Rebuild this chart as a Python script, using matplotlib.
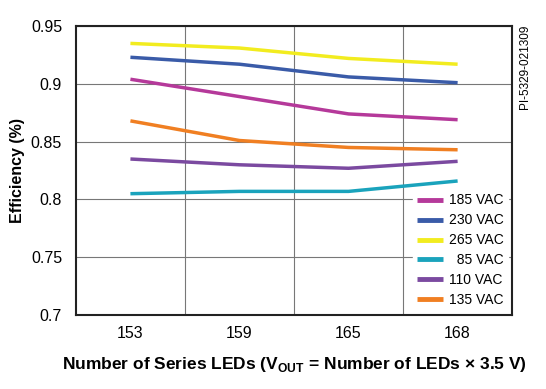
import numpy as np
import matplotlib
matplotlib.use("Agg")
import matplotlib.pyplot as plt

leds = ["153", "159", "165", "168"]
series = ["185 VAC", "230 VAC", "265 VAC", "  85 VAC", "110 VAC", "135 VAC"]
eff_185 = [0.904, 0.889, 0.874, 0.869]
eff_230 = [0.923, 0.917, 0.906, 0.901]
eff_265 = [0.935, 0.931, 0.922, 0.917]
eff_85 = [0.805, 0.807, 0.807, 0.816]
eff_110 = [0.835, 0.830, 0.827, 0.833]
eff_135 = [0.868, 0.851, 0.845, 0.843]
colors = ["#B5399A", "#3A5BA8", "#F2EC1F", "#1AA3BC", "#7B4AA0", "#F07F22"]

plt.rcParams['font.family'] = ['Liberation Sans', 'DejaVu Sans']
plt.rcParams['mathtext.fontset'] = 'custom'
plt.rcParams['mathtext.bf'] = 'Liberation Sans:bold'
plt.rcParams['mathtext.rm'] = 'Liberation Sans'

fig = plt.figure(figsize=(5.46, 3.89), dpi=100)
ax = fig.add_axes([0.139, 0.190, 0.799, 0.743])

x = np.arange(len(leds))
for name, vals, c in zip(series, [eff_185, eff_230, eff_265, eff_85, eff_110, eff_135], colors):
    ax.plot(x, vals, color=c, lw=2.5, label=name, solid_capstyle="butt")

ax.set_xlim(-0.5, 3.5)
ax.set_ylim(0.7, 0.95)
ax.set_yticks([0.7, 0.75, 0.8, 0.85, 0.9, 0.95])
ax.set_yticklabels(["0.7", "0.75", "0.8", "0.85", "0.9", "0.95"])
ax.set_xticks(x)
ax.set_xticklabels(leds)
ax.set_xticks([0.5, 1.5, 2.5], minor=True)
ax.tick_params(axis="x", which="both", length=0, labelsize=11.5, pad=8)
ax.tick_params(axis="y", length=0, labelsize=11.5, pad=10)
ax.grid(axis="y", which="major", color="#777777", lw=0.8)
ax.grid(axis="x", which="minor", color="#777777", lw=0.8)
ax.set_axisbelow(True)
for s in ax.spines.values():
    s.set_linewidth(1.5)
    s.set_color("#222222")

ax.set_ylabel("Efficiency (%)", fontsize=11.5, fontweight="bold", labelpad=4)
ax.set_xlabel(r"Number of Series LEDs (V$_\mathbf{OUT}$ = Number of LEDs $\mathbf{\times}$ 3.5 V)",
              fontsize=12.5, fontweight="bold", labelpad=10)

leg = ax.legend(loc="lower right", bbox_to_anchor=(0.99, 0.015), fontsize=10, frameon=True,
                handlelength=1.9, handleheight=0.5, handletextpad=0.4, labelspacing=0.42,
                borderaxespad=0, borderpad=0.3, fancybox=False, edgecolor="white", framealpha=1)
for h in leg.get_lines():
    h.set_linewidth(3.5)

fig.text(0.962, 0.828, "PI-5329-021309", rotation=90, fontsize=8.5, ha="center", va="center")

fig.savefig("out.png", dpi=100)
